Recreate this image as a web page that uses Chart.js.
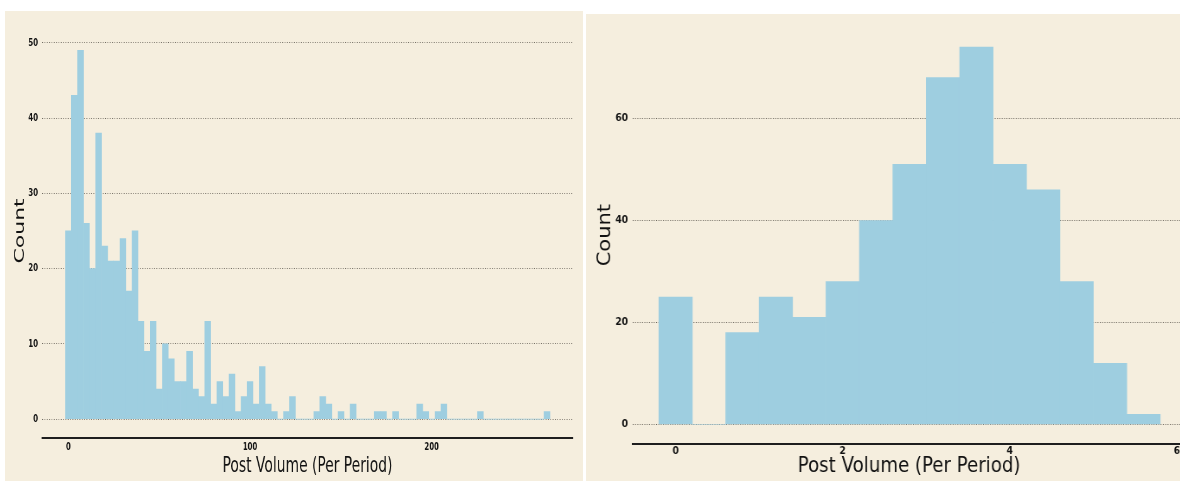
<!DOCTYPE html>
<html><head><meta charset="utf-8">
<script src="https://cdn.jsdelivr.net/npm/chart.js@4.4.1/dist/chart.umd.min.js"></script>
<style>
html,body{margin:0;padding:0;background:#fff;width:1180px;height:481px;overflow:hidden;position:relative}
.panel{position:absolute;overflow:hidden;background:#F5EEDE}
#pL{left:5px;top:11px;width:578px;height:470px}
#pR{left:586px;top:14px;width:594px;height:467px}
canvas{position:absolute;left:0;top:0;transform-origin:0 0}
</style></head><body>
<div class="panel" id="pL"><canvas id="cL"></canvas></div>
<div class="panel" id="pR"><canvas id="cR"></canvas></div>
<script>
// ---- data ----
const xTitle = 'Post Volume (Per Period)';
const yTitle = 'Count';

const leftBinStart = 0;
const leftBinWidth = 3.335;
const leftCounts = [25,43,49,26,20,38,23,21,21,24,
                    17,25,13,9,13,4,10,8,5,5,
                    9,4,3,13,2,5,3,6,1,3,
                    5,2,7,2,1,0,1,3,0,0,
                    0,1,3,2,0,1,0,2,0,0,
                    0,1,1,0,1,0,0,0,2,1,
                    0,1,2,0,0,0,0,0,1,0,
                    0,0,0,0,0,0,0,0,0,1];
const leftXTicks = [0,100,200];
const leftYTicks = [0,10,20,30,40,50];

const rightBinStart = 0;
const rightBinWidth = 0.4;
const rightCounts = [25,0,18,25,21,28,40,51,68,74,51,46,28,12,2];
const rightXTicks = [0,2,4,6];
const rightYTicks = [0,20,40,60];

// ---- style ----
const FONT = "'DejaVu Sans', Verdana, sans-serif";
const BAR = '#9ECEE0';
const GRID = '#6f6a60';
const INK = '#111111';

function build(id, counts, binStart, binW, xTicks, yTicks, g) {
  const cv = document.getElementById(id);
  cv.width = g.W; cv.height = g.H;
  cv.style.width = g.W + 'px'; cv.style.height = g.H + 'px';
  cv.style.transform = 'scaleX(' + g.s + ')';
  const data = counts.map((c, i) => ({x: binStart + i * binW, y: c}));
  new Chart(cv, {
    type: 'bar',
    data: {datasets: [{data, backgroundColor: BAR, borderWidth: 0,
                       barPercentage: 1, categoryPercentage: 1}]},
    options: {
      responsive: false, devicePixelRatio: 1, animation: false,
      layout: {padding: {left: 0, right: g.padR, top: g.padT, bottom: 0}},
      plugins: {legend: {display: false}, tooltip: {enabled: false}},
      scales: {
        x: {
          type: 'linear', min: g.xMin, max: g.xMax, offset: false,
          afterBuildTicks: s => { s.ticks = xTicks.map(v => ({value: v})); },
          afterFit: s => { s.height = g.xH; },
          grid: {display: false, offset: false, drawTicks: false},
          border: {display: true, color: '#1e1e1e', width: 2},
          ticks: {autoSkip: false, maxRotation: 0, padding: g.xTickPad, color: INK,
                  font: {family: FONT, weight: 'bold', size: g.tickSize}},
          title: {display: true, text: xTitle, color: INK,
                  font: {family: FONT, size: g.titleSize},
                  padding: {top: 0, bottom: g.xTitlePad}}
        },
        y: {
          min: g.yMin, max: g.yMax,
          afterBuildTicks: s => { s.ticks = yTicks.map(v => ({value: v})); },
          afterFit: s => { s.width = g.yW; },
          grid: {color: GRID, lineWidth: 1, drawTicks: false},
          border: {display: false, dash: g.dash},
          ticks: {padding: g.yTickPad, color: INK,
                  font: {family: FONT, weight: 'bold', size: g.tickSize}},
          title: {display: true, text: yTitle, color: INK,
                  font: {family: FONT, size: g.titleSize},
                  padding: {top: g.yTitlePad, bottom: 0}}
        }
      }
    }
  });
}

build('cL', leftCounts, leftBinStart, leftBinWidth, leftXTicks, leftYTicks, {
  s: 0.63, W: 918, H: 470, padR: 16.4, padT: 9, xH: 43, yW: 58.7,
  xMin: -14.5, xMax: 277.8, yMin: -2.5, yMax: 52.5,
  tickSize: 11, titleSize: 22, xTickPad: 3, xTitlePad: 1.3,
  yTickPad: 6.3, yTitlePad: 10.6, dash: [1.3, 2.4]
});

build('cR', rightCounts, rightBinStart, rightBinWidth, rightXTicks, rightYTicks, {
  s: 0.865, W: 713, H: 467, padR: 20.2, padT: 12.7, xH: 37.4, yW: 54.3,
  xMin: -0.51, xMax: 6.1, yMin: -3.75, yMax: 78,
  tickSize: 10.5, titleSize: 21, xTickPad: 1.6, xTitlePad: 1.9,
  yTickPad: 5.7, yTitlePad: 9.9, dash: [1.1, 1.6]
});
</script>
</body></html>
